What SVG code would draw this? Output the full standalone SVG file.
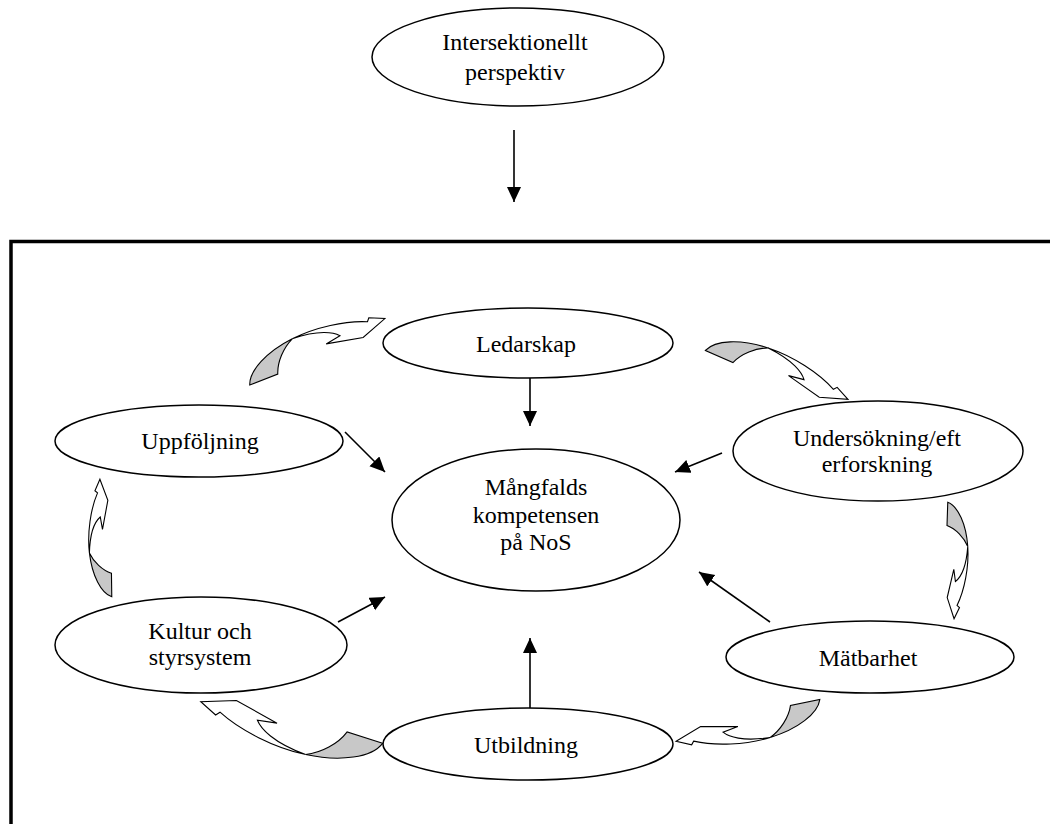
<svg xmlns="http://www.w3.org/2000/svg" xmlns:xlink="http://www.w3.org/1999/xlink" width="1050" height="824" viewBox="0 0 1050 824">
<style>
.node ellipse{fill:#fff;stroke:#000;stroke-width:1.5}
.node text{font-family:"Liberation Serif","Times New Roman",serif;font-size:24px;fill:#000;text-anchor:middle}
.conn line{stroke:#000;stroke-width:1.6;marker-end:url(#ah)}
.ct{fill:#c8c8c8;stroke:#000;stroke-width:1.1;stroke-linejoin:miter;vector-effect:non-scaling-stroke}
.ch{fill:#fff;stroke:#000;stroke-width:1.1;stroke-linejoin:miter;vector-effect:non-scaling-stroke}
</style>
<defs>
<marker id="ah" markerUnits="userSpaceOnUse" markerWidth="16" markerHeight="16" refX="15" refY="7" orient="auto">
<path d="M0,0 L15,7 L0,14 Z" fill="#000"/>
</marker>
<g id="ca">
<path class="ct" d="M -15,-2 C -9,-15 15,-24 44,-24 C 32,-20 20,-10 15,1 Z"/>
<path class="ch" d="M 44,-24 C 70,-24 100,-16 119,-5 L 122,-8 L 136,0 L 108,7 L 72,-4 L 88,-5 C 84,-11 72,-20 44,-24 Z"/>
</g>
</defs>
<rect x="0" y="0" width="1050" height="824" fill="#fff"/>
<rect x="11" y="241.5" width="1100" height="700" fill="none" stroke="#000" stroke-width="3.5"/>

<g id="connectors" class="conn">
<line x1="514" y1="130" x2="514" y2="202"/>
<line x1="530" y1="378" x2="530" y2="426"/>
<line x1="345" y1="432" x2="385" y2="472"/>
<line x1="722" y1="453" x2="675" y2="472"/>
<line x1="338" y1="622" x2="385" y2="597"/>
<line x1="770" y1="622" x2="699" y2="572"/>
<line x1="530" y1="708" x2="530" y2="638"/>
</g>

<g id="cycle-arrows">
<use xlink:href="#ca" transform="translate(264,380) rotate(-26.95) scale(0.997)"/>
<use xlink:href="#ca" transform="translate(719,357) rotate(18.17) scale(0.998)"/>
<use xlink:href="#ca" transform="translate(947,514) rotate(86.15) scale(0.772)"/>
<use xlink:href="#ca" transform="translate(805,702) rotate(163.05) scale(0.991)"/>
<use xlink:href="#ca" transform="translate(365,737) rotate(-167.88) scale(1.235)"/>
<use xlink:href="#ca" transform="translate(112,585) rotate(-96.52) scale(0.783)"/>
</g>

<g id="n-intersektionellt" class="node">
<ellipse cx="518" cy="57" rx="146" ry="49"/>
<text x="515" y="50">Intersektionellt</text>
<text x="515" y="80">perspektiv</text>
</g>
<g id="n-ledarskap" class="node">
<ellipse cx="528" cy="343" rx="145" ry="35"/>
<text x="526" y="352">Ledarskap</text>
</g>
<g id="n-uppfoljning" class="node">
<ellipse cx="199" cy="441" rx="144" ry="36"/>
<text x="200" y="449">Uppföljning</text>
</g>
<g id="n-undersokning" class="node">
<ellipse cx="878" cy="451" rx="145" ry="50"/>
<text x="877" y="446">Undersökning/eft</text>
<text x="877" y="472">erforskning</text>
</g>
<g id="n-mangfald" class="node">
<ellipse cx="536" cy="520" rx="144" ry="71"/>
<text x="536" y="495">Mångfalds</text>
<text x="536" y="523">kompetensen</text>
<text x="536" y="550">på NoS</text>
</g>
<g id="n-kultur" class="node">
<ellipse cx="201" cy="645" rx="146" ry="48"/>
<text x="200" y="639">Kultur och</text>
<text x="200" y="665">styrsystem</text>
</g>
<g id="n-matbarhet" class="node">
<ellipse cx="870" cy="657" rx="144" ry="36"/>
<text x="868" y="666">Mätbarhet</text>
</g>
<g id="n-utbildning" class="node">
<ellipse cx="528" cy="744" rx="145" ry="36"/>
<text x="526" y="753">Utbildning</text>
</g>
</svg>
